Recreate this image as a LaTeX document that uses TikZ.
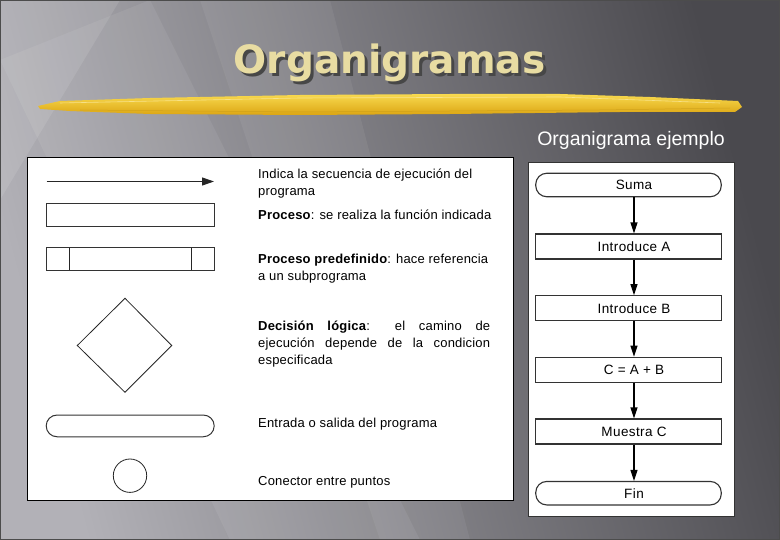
\documentclass[tikz,border=0pt]{standalone}
\usepackage{fontspec}
\setmainfont{Liberation Sans}
\newfontfamily\lsp[LetterSpace=1.5]{Liberation Sans}
\newfontfamily\flsp[LetterSpace=3]{Liberation Sans}
\newfontfamily\titlefont{DejaVu Sans}
\usetikzlibrary{arrows.meta}
\definecolor{bgL}{HTML}{B2B1B7}
\definecolor{bgR}{HTML}{4A494E}
\definecolor{titlec}{HTML}{E8DCA2}
\definecolor{brushA}{HTML}{F8DA50}
\definecolor{brushB}{HTML}{DCA512}
\begin{document}
\begin{tikzpicture}[x=1pt,y=-1pt,
  shapeline/.style={draw=black!80,line width=1pt},
  thinline/.style={draw=black!85,line width=0.8pt},
  procbox/.style={draw=black!80,line width=1.1pt,fill=white,minimum width=185.5pt,minimum height=25pt,inner sep=0pt},
  termbox/.style={procbox,rounded corners=11pt,minimum height=23.5pt},
  flowtxt/.style={font=\flsp\fontsize{13.5}{15}\selectfont,inner sep=0pt},
  desc/.style={font=\lsp\fontsize{13}{17}\selectfont,anchor=base west,inner sep=0pt,align=left},
  flowarrow/.style={draw=black,line width=1.2pt,-{Triangle[length=11pt,width=7pt]}},
]
\useasboundingbox (0,0) rectangle (780,540);
% background
\shade[left color=bgL,right color=bgR,shading angle=105] (0,0) rectangle (780,540);
\fill[white,opacity=0.07] (0,60) -- (150,0) -- (420,540) -- (230,540) -- cycle;
\fill[white,opacity=0.06] (200,0) -- (330,0) -- (470,540) -- (380,540) -- cycle;
\fill[white,opacity=0.10] (0,0) -- (120,0) -- (0,200) -- cycle;
\draw[black!70,line width=1pt] (0.5,0.5) rectangle (779.5,539.5);
% title
\node[font=\titlefont\bfseries\fontsize{39}{44}\selectfont,text=black!72,inner sep=0pt,anchor=base] (titleshadow) at (392.5,77) {Organigramas};
\node[font=\titlefont\bfseries\fontsize{39}{44}\selectfont,text=titlec,inner sep=0pt,anchor=base] (title) at (389.5,74) {Organigramas};
% brush stroke
\shade[top color=brushA,bottom color=brushB]
  (38,106) -- (60,101) -- (150,98) -- (300,95) -- (450,94) -- (560,94) -- (650,97) -- (738,101)
  -- (742,107) -- (735,112) -- (620,112) -- (450,114) -- (300,115) -- (150,114) -- (70,111) -- (40,109) -- cycle;
\draw[brushA!50!white,line width=0.6pt,opacity=0.7] (60,103) -- (300,98) -- (560,97) -- (720,103);
\draw[brushB!80!black,line width=0.5pt,opacity=0.35] (80,110) -- (300,112) -- (600,110) -- (730,108);
% subtitle
\node[font=\fontsize{19.5}{22}\selectfont,text=white,anchor=east,inner sep=0pt] (subtitle) at (725,140) {Organigrama ejemplo};
% left panel
\node[draw=black,line width=1pt,fill=white,minimum width=486pt,minimum height=343pt,anchor=north west,inner sep=0pt] (leftpanel) at (27,157) {};
% symbols
\coordinate (arrA) at (46.7,181.5);
\coordinate (arrB) at (214,181.5);
\draw[draw=black!85,line width=1pt,-{Triangle[length=12pt,width=8pt]}] (arrA) -- (arrB);
\node[shapeline,minimum width=167.3pt,minimum height=22.7pt,inner sep=0pt] (proc) at (130.4,214.7) {};
\node[shapeline,minimum width=167.3pt,minimum height=22.3pt,inner sep=0pt] (predef) at (130.4,258.9) {};
\draw[thinline] (69.3,247.7) -- (69.3,270.1);
\draw[thinline] (191.3,247.7) -- (191.3,270.1);
\draw[thinline] (125,298.3) -- (171.7,345.5) -- (125,392.3) -- (77.3,345.5) -- cycle;
\node[shapeline,rounded corners=10.8pt,minimum width=168pt,minimum height=21.7pt,inner sep=0pt] (term) at (130.2,425.9) {};
\node[thinline,circle,minimum size=33.4pt,inner sep=0pt] (conn) at (130,475.7) {};
% descriptions
\node[desc] (d1) at (258,178.5) {Indica la secuencia de ejecución del};
\node[desc] (d1b) at (258,195.5) {programa};
\node[desc] (d2) at (258,219.5) {\textbf{Proceso}: se realiza la función indicada};
\node[desc] (d3) at (258,263.5) {\textbf{Proceso predefinido}: hace referencia};
\node[desc] (d3b) at (258,280.5) {a un subprograma};
\node[desc] (d4) at (258,330.5) {\makebox[232pt][s]{\textbf{Decisión lógica}: el camino de}};
\node[desc] (d4b) at (258,347.5) {\makebox[232pt][s]{ejecución depende de la condicion}};
\node[desc] (d4c) at (258,364.5) {especificada};
\node[desc] (d5) at (258,427.5) {Entrada o salida del programa};
\node[desc] (d6) at (258,485.5) {Conector entre puntos};
% right panel
\node[draw=black!80,line width=1pt,fill=white,minimum width=206pt,minimum height=354pt,anchor=north west,inner sep=0pt] (rightpanel) at (528,162) {};
\node[termbox] (suma) at (628.5,185) {};
\node[procbox] (inA) at (628.5,246.5) {};
\node[procbox] (inB) at (628.5,308.2) {};
\node[procbox] (calc) at (628.5,369.7) {};
\node[procbox] (show) at (628.5,431.5) {};
\node[termbox] (fin) at (628.5,493.2) {};
\node[flowtxt] (tsuma) at (634,185) {Suma};
\node[flowtxt] (tinA) at (634,246.5) {Introduce A};
\node[flowtxt] (tinB) at (634,308.2) {Introduce B};
\node[flowtxt] (tcalc) at (634,369.7) {C = A + B};
\node[flowtxt] (tshow) at (634,431.5) {Muestra C};
\node[flowtxt] (tfin) at (634,493.2) {Fin};
\draw[flowarrow] ([xshift=5.5pt]suma.south) -- ([xshift=5.5pt]inA.north);
\draw[flowarrow] ([xshift=5.5pt]inA.south) -- ([xshift=5.5pt]inB.north);
\draw[flowarrow] ([xshift=5.5pt]inB.south) -- ([xshift=5.5pt]calc.north);
\draw[flowarrow] ([xshift=5.5pt]calc.south) -- ([xshift=5.5pt]show.north);
\draw[flowarrow] ([xshift=5.5pt]show.south) -- ([xshift=5.5pt]fin.north);
\end{tikzpicture}
\end{document}
